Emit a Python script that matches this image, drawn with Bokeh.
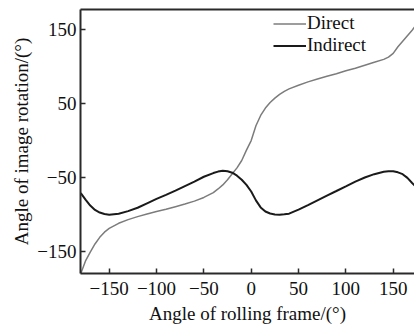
from bokeh.plotting import figure
from bokeh.models import FixedTicker, LinearAxis, Range1d, Legend, LegendItem
from bokeh.embed import file_html
from bokeh.resources import INLINE

# ---- data ----
angle = [-180, -175, -170, -165, -160, -155, -150, -140, -130, -120, -110, -100, -90,
         -80, -70, -60, -50, -40, -35, -30, -25, -20, -15, -10, -5, 0, 5, 10, 15, 20,
         25, 30, 35, 40, 50, 60, 70, 80, 90, 100, 110, 120, 130, 140, 145, 150, 155,
         160, 165, 170, 175]
direct = [-180, -163, -151, -140, -131, -124, -119, -112, -107, -103, -99.5, -96, -93,
          -89.5, -86, -82, -77, -70.5, -65.5, -60, -53, -45, -37, -27, -13, 0, 20, 34, 44, 51.5,
          57.5, 62.5, 66.7, 70, 75, 79.5, 83.5, 87, 90.5, 94.5, 98, 102, 106, 110, 113, 118, 127,
          134.5, 142, 149.5, 158]
indirect = [-71, -80, -88, -94, -97.5, -99.5, -100.3, -99, -95.5, -91, -85, -79, -73.5,
            -67.8, -61.6, -55.5, -49, -44, -42, -40.8, -41.5, -43.5, -47.5, -53, -60, -69, -81, -90.5, -96, -98.8,
            -100, -100.3, -99.8, -99, -93.5, -87.5, -81, -74.5, -68.3, -62, -55.5, -50, -45.5, -42.3, -41.6, -41.5, -43,
            -45.5, -50.5, -57.5, -63.5]

x_ticks = [-150, -100, -50, 0, 50, 100, 150]
x_tick_labels = ["\u2212150", "\u2212100", "\u221250", "0", "50", "100", "150"]
y_ticks = [150, 50, -50, -150]
y_tick_labels = ["150", "50", "\u221250", "\u2212150"]

FONT = "Liberation Serif"
AX = "#2a2a2a"
TXT = "#111111"

p = figure(width=414, height=327, output_backend="svg", toolbar_location=None,
           x_range=Range1d(-180.3, 172.5), y_range=Range1d(-180, 177.5),
           min_border_left=80, min_border_right=0, min_border_top=9, min_border_bottom=54)
p.outline_line_color = None
p.grid.visible = False
p.background_fill_color = "white"

r1 = p.line(angle, direct, line_color="#7c7c7c", line_width=1.5)
r2 = p.line(angle, indirect, line_color="#1a1a1a", line_width=2.0)

def style_axis(ax, ticks, labels):
    ax.ticker = FixedTicker(ticks=ticks)
    ax.major_label_overrides = {t: l for t, l in zip(ticks, labels)}
    ax.minor_tick_line_color = None
    ax.major_tick_in = 5
    ax.major_tick_out = 0
    ax.major_tick_line_color = AX
    ax.major_tick_line_width = 1.5
    ax.axis_line_color = AX
    ax.axis_line_width = 2
    ax.major_label_text_font = FONT
    ax.major_label_text_font_size = "19px"
    ax.major_label_text_color = TXT
    ax.axis_label_text_font = FONT
    ax.axis_label_text_font_size = "19px"
    ax.axis_label_text_font_style = "normal"
    ax.axis_label_text_color = TXT

style_axis(p.xaxis[0], x_ticks, x_tick_labels)
style_axis(p.yaxis[0], y_ticks, y_tick_labels)
p.xaxis[0].axis_label = "Angle of rolling frame/(\u00b0)"
p.yaxis[0].axis_label = "Angle of image rotation/(\u00b0)"
p.xaxis[0].major_label_standoff = 8
p.xaxis[0].axis_label_standoff = 5
p.yaxis[0].major_label_standoff = 4
p.yaxis[0].axis_label_standoff = 2

top = LinearAxis(ticker=FixedTicker(ticks=x_ticks), major_tick_line_color=None,
                 minor_tick_line_color=None, major_label_text_font_size="1px",
                 major_label_text_alpha=0, major_label_standoff=0,
                 major_tick_in=0, major_tick_out=0, axis_line_color=AX,
                 axis_line_width=2)
p.add_layout(top, "above")

legend = Legend(items=[LegendItem(label="Direct", renderers=[r1]),
                       LegendItem(label="Indirect", renderers=[r2])],
                location=(193, 217), border_line_color=None, background_fill_alpha=0,
                padding=0, margin=0, spacing=0, glyph_width=33, glyph_height=21,
                label_standoff=1, label_text_font=FONT, label_text_font_size="19px",
                label_height=21, label_text_color=TXT)
p.add_layout(legend, "center")

open("out.html", "w").write(file_html(p, INLINE))
